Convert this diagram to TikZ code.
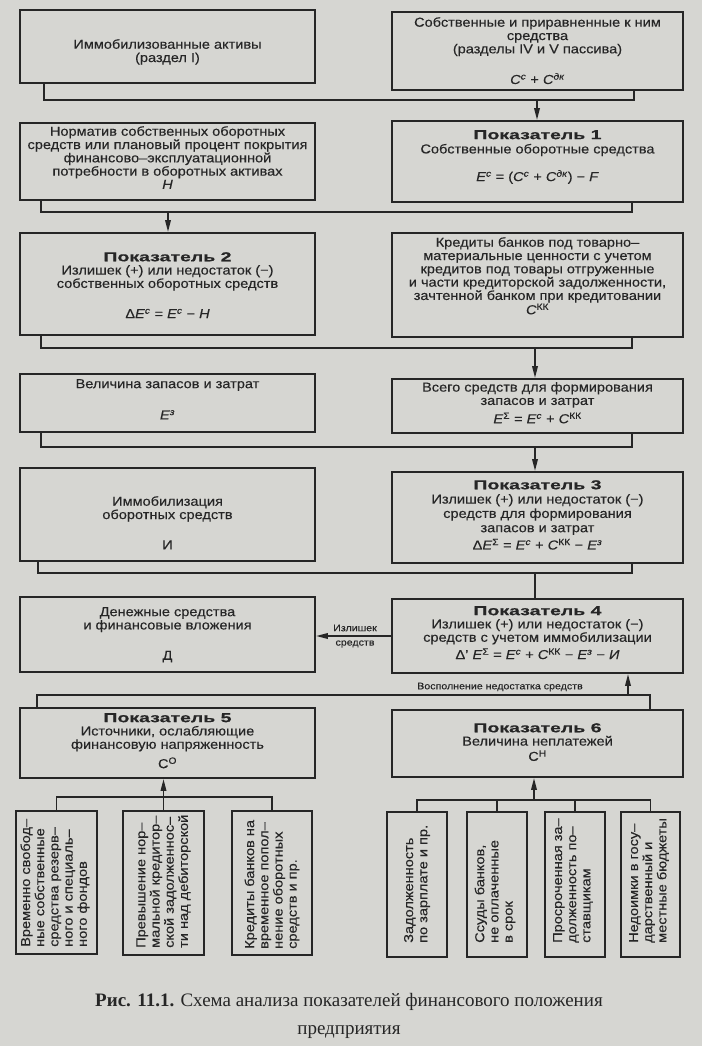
\documentclass[tikz,border=0pt]{standalone}
\usepackage{fontspec}
\setmainfont{Liberation Sans}[FakeStretch=1.12,FakeBold=0.25]
\newfontfamily\pkfont{Liberation Sans}[FakeStretch=1.5,FakeBold=0.6]
\newfontfamily\capfont{Liberation Serif}
\usetikzlibrary{arrows.meta,calc}
\definecolor{paper}{RGB}{214,214,210}
\definecolor{ink}{RGB}{38,38,38}
\newcommand\mi[1]{\textit{#1}}
\newcommand\sps[1]{\textsuperscript{#1}}
\newcommand\pk[1]{{\pkfont\bfseries Показатель #1}}
\newcommand\bx[5]{\node[box, minimum width={#4-#2}, minimum height={#5-#3}] (#1) at ({(#2+#4)/2},{(#3+#5)/2}) {};}
\tikzset{
  box/.style={draw=ink, line width=1.8pt, inner sep=0pt, rectangle},
  txt/.style={align=center, inner sep=0pt, anchor=north, text=ink, font=\fontsize{13}{13.3}\selectfont},
  vtxt/.style={align=left, inner sep=0pt, rotate=90, anchor=west, text=ink, font=\fontsize{13}{14.2}\selectfont},
  conn/.style={draw=ink, line width=1.8pt},
  arr/.style={conn, -{Triangle[length=12pt,width=5.5pt]}},
  small/.style={inner sep=0pt, text=ink, font=\fontsize{9.5}{10}\selectfont},
}
\begin{document}
\begin{tikzpicture}[x=1pt,y=-1pt]
\useasboundingbox (0,0) rectangle (702,1046);
\fill[paper] (0,0) rectangle (702,1046);
% boxes
\bx{A}{20}{10}{315}{83}
\bx{B}{392}{12}{683}{90}
\bx{N}{20}{123}{315}{200}
\bx{P1}{392}{121}{683}{202}
\bx{P2}{20}{233}{315}{335}
\bx{K}{392}{233}{683}{337}
\bx{V}{20}{374}{315}{432}
\bx{S}{392}{379}{683}{433}
\bx{I}{20}{468}{315}{561}
\bx{P3}{392}{472}{683}{563}
\bx{D}{20}{597}{315}{672}
\bx{P4}{392}{599}{683}{673}
\bx{P5}{20}{708}{315}{778}
\bx{P6}{392}{710}{683}{777}
\bx{L1}{16}{811}{97}{954}
\bx{L2}{123}{811}{204}{955}
\bx{L3}{232}{811}{312}{955}
\bx{R1}{387}{812}{447}{957}
\bx{R2}{467}{812}{527}{957}
\bx{R3}{545}{812}{605}{957}
\bx{R4}{621}{812}{680}{957}
% texts
\node[txt] (tA) at (167.5,39) {Иммобилизованные активы\\(раздел I)};
\node[txt] (tB) at (537.5,17) {Собственные и приравненные к ним\\средства\\(разделы IV и V пассива)\\[16pt]\mi{C}\sps{\mi{с}} + \mi{C}\sps{\mi{дк}}};
\node[txt] (tN) at (167.5,126) {Норматив собственных оборотных\\средств или плановый процент покрытия\\финансово–эксплуатационной\\потребности в оборотных активах\\\mi{H}};
\node[txt] (tP1) at (537.5,130) {\pk{1}\\[1pt]Собственные оборотные средства\\[13pt]\mi{E}\sps{\mi{с}} = (\mi{C}\sps{\mi{с}} + \mi{C}\sps{\mi{дк}}) − \mi{F}};
\node[txt] (tP2) at (167.5,252) {\pk{2}\\Излишек (+) или недостаток (−)\\собственных оборотных средств\\[17pt]Δ\mi{E}\sps{\mi{с}} = \mi{E}\sps{\mi{с}} − \mi{H}};
\node[txt] (tK) at (537.5,237) {Кредиты банков под товарно–\\материальные ценности с учетом\\кредитов под товары отгруженные\\и части кредиторской задолженности,\\зачтенной банком при кредитовании\\\mi{C}\sps{КК}};
\node[txt] (tV) at (167.5,379) {Величина запасов и затрат\\[18pt]\mi{E}\sps{\mi{з}}};
\node[txt] (tS) at (537.5,382) {Всего средств для формирования\\запасов и затрат\\[4pt]\mi{E}\sps{Σ} = \mi{E}\sps{\mi{с}} + \mi{C}\sps{КК}};
\node[txt] (tI) at (167.5,496) {Иммобилизация\\оборотных средств\\[17pt]И};
\node[txt] (tP3) at (537.5,480) {\pk{3}\\[1pt]Излишек (+) или недостаток (−)\\[1pt]средств для формирования\\[1pt]запасов и затрат\\[3pt]Δ\mi{E}\sps{Σ} = \mi{E}\sps{\mi{с}} + \mi{C}\sps{КК} − \mi{E}\sps{\mi{з}}};
\node[txt] (tD) at (167.5,607) {Денежные средства\\и финансовые вложения\\[17pt]Д};
\node[txt] (tP4) at (537.5,606) {\pk{4}\\Излишек (+) или недостаток (−)\\средств с учетом иммобилизации\\[3pt]Δ’ \mi{E}\sps{Σ} = \mi{E}\sps{\mi{с}} + \mi{C}\sps{КК} − \mi{E}\sps{\mi{з}} − \mi{И}};
\node[txt] (tP5) at (167.5,713) {\pk{5}\\Источники, ослабляющие\\финансовую напряженность\\[5pt]C\sps{О}};
\node[txt] (tP6) at (537.5,723) {\pk{6}\\Величина неплатежей\\[2pt]C\sps{Н}};
% rotated texts
\node[vtxt] (tL1) at (55,947) {Временно свобод–\\ные собственные\\средства резерв–\\ного и специаль–\\ного фондов};
\node[vtxt] (tL2) at (163.5,948) {Превышение нор–\\мальной кредитор–\\ской задолженнос–\\ти над дебиторской};
\node[vtxt] (tL3) at (272,949) {Кредиты банков на\\временное попол–\\нение оборотных\\средств и пр.};
\node[vtxt] (tR1) at (417,943) {Задолженность\\по зарплате и пр.};
\node[vtxt] (tR2) at (495,943) {Ссуды банков,\\не оплаченные\\в срок};
\node[vtxt] (tR3) at (573,943) {Просроченная за–\\долженность по–\\ставщикам};
\node[vtxt] (tR4) at (649,943) {Недоимки в госу–\\дарственный и\\местные бюджеты};
% connectors
\coordinate (j1) at (537,100);
\draw[conn] ([xshift=25pt]A.south west) |- (j1) -| ([xshift=-50pt]B.south east);
\draw[arr] (j1) -- (j1 |- P1.north);
\coordinate (j2) at (168,212);
\draw[conn] ([xshift=22pt]N.south west) |- (j2) -| ([xshift=-52pt]P1.south east);
\draw[arr] (j2) -- (j2 |- P2.north);
\coordinate (j3) at (535,348);
\draw[conn] ([xshift=22pt]P2.south west) |- (j3) -| ([xshift=-52pt]K.south east);
\draw[arr] (j3) -- (j3 |- S.north);
\coordinate (j4) at (535,447);
\draw[conn] ([xshift=22pt]V.south west) |- (j4) -| ([xshift=-52pt]S.south east);
\draw[arr] (j4) -- (j4 |- P3.north);
\coordinate (j5) at (535,573);
\draw[conn] ([xshift=19pt]I.south west) |- (j5) -| ([xshift=-52pt]P3.south east);
\draw[conn] (j5) -- (j5 |- P4.north);
\draw[arr] (P4.west) -- (P4.west -| D.east);
\node[small] (lz1) at (355,628) {Излишек};
\node[small] (lz2) at (355,644) {средств};
\coordinate (j6) at (628,695);
\draw[conn] ([xshift=18pt]P5.north west) |- (j6) -| ([xshift=-34pt]P6.north east);
\draw[arr] (j6) -- (j6 |- P4.south);
\node[small] (lv) at (500,687) {Восполнение недостатка средств};
\coordinate (j7) at (163.5,797);
\draw[conn] (L1.north) |- (j7) -| (L3.north);
\draw[arr] (L2.north) -- (L2.north |- P5.south);
\coordinate (j8) at (534,800);
\draw[conn] (R1.north) |- (j8) -| (R4.north);
\draw[conn] (R2.north) -- (R2.north |- j8);
\draw[conn] (R3.north) -- (R3.north |- j8);
\draw[arr] (j8) -- (j8 |- P6.south);
% caption
\node[inner sep=0pt, align=center, text=ink, font=\capfont\fontsize{19}{28}\selectfont] (cap) at (349,1016) {\textbf{Рис. 11.1.} Схема анализа показателей финансового положения\\предприятия};
\end{tikzpicture}
\end{document}
